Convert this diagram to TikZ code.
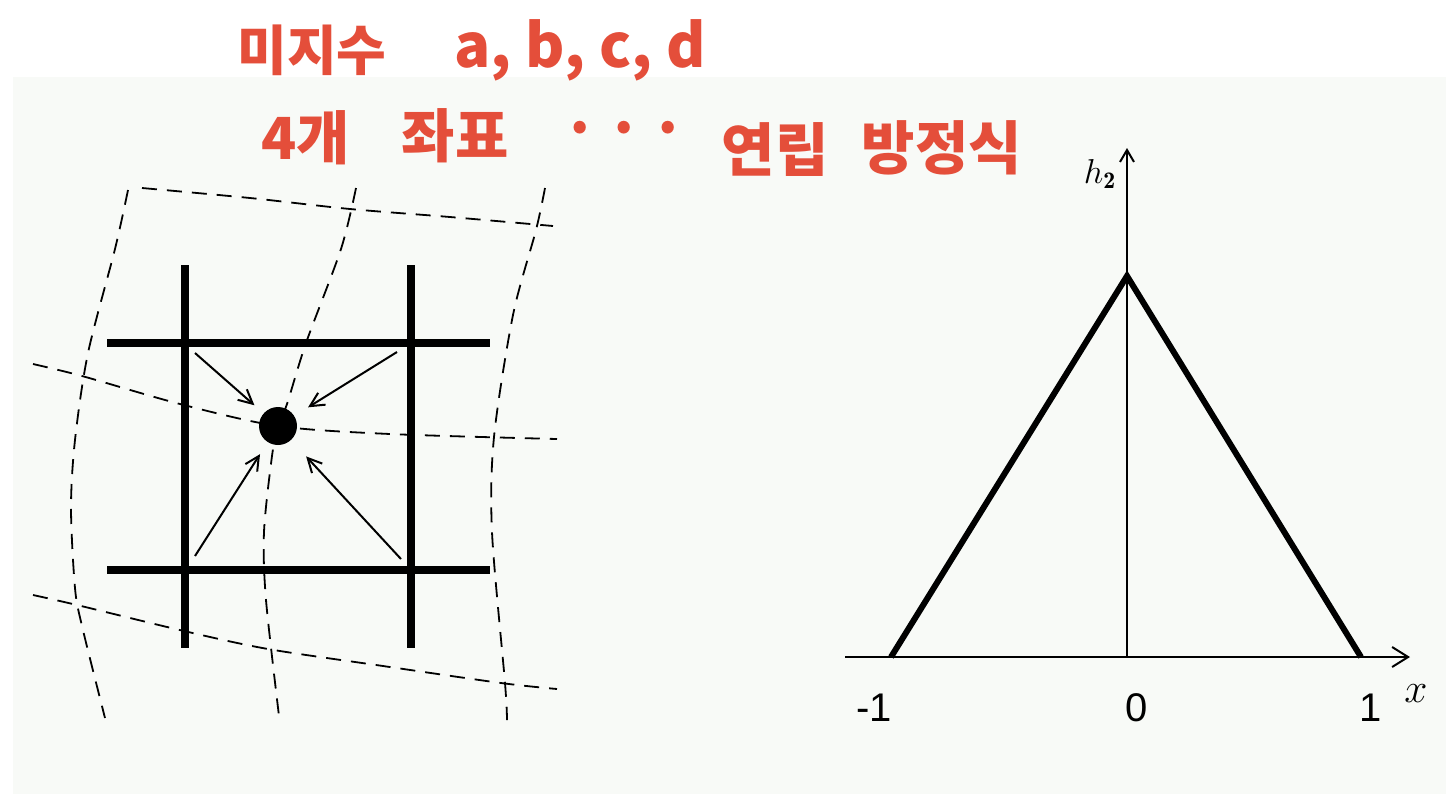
\documentclass[tikz,border=0pt]{standalone}
\usepackage{fontspec}
\usepackage{xcolor}
\usetikzlibrary{arrows.meta,positioning,calc}
\newfontfamily\kofont{Noto Sans CJK KR}
\newfontfamily\axfont{Liberation Sans}
\definecolor{penred}{RGB}{228,78,58}
\definecolor{paper}{RGB}{248,250,247}

\begin{document}
\begin{tikzpicture}[
    x=0.5pt, y=-0.5pt,
    memo/.style={text=penred, font=\kofont\bfseries\fontsize{29}{33}\selectfont, inner sep=0pt},
    gridline/.style={line width=3.6pt},
    warp/.style={dash pattern=on 7.5pt off 5pt, line width=0.9pt},
    pull/.style={-{Straight Barb[length=7pt,width=7pt]}, line width=1pt, shorten >=8pt},
    axis/.style={line width=1pt},
    hat/.style={line width=3pt},
    tick/.style={font=\axfont\fontsize{20}{24}\selectfont, inner sep=0pt}
]
\useasboundingbox (0,0) rectangle (1446,794);
\fill[paper] (13,77) rectangle (1446,794);

% handwritten notes
\node[memo, font=\kofont\bfseries\fontsize{27}{31}\selectfont] (unknowns) at (312,50) {미지수};
\node[memo, font=\kofont\bfseries\fontsize{30}{34}\selectfont] (abcd) at (580,50) {a, b, c, d};
\node[memo] (four) at (306,138) {4개};
\node[memo] (coords) at (455,136) {좌표};
\node[memo] (dots) at (624,135) {·\hspace{0.15em}·\hspace{0.15em}·};
\node[memo] (simul) at (775,150) {연립};
\node[memo] (eqn) at (942,148) {방정식};

% warped grid
\draw[warp] plot[smooth] coordinates {(142,188) (250,198) (350,209) (450,217) (553,226)};
\draw[warp] plot[smooth] coordinates {(33,364) (82,376) (180,404) (278,426) (390,434) (557,439)};
\draw[warp] plot[smooth] coordinates {(33,595) (77,605) (184,631) (268,649) (383,666) (501,683) (557,689)};
\draw[warp] plot[smooth] coordinates {(128,190) (115,249) (88,353) (75,440) (71,508) (75,588) (82,626) (105,718)};
\draw[warp] plot[smooth] coordinates {(356,188) (341,249) (306,343) (287,404) (278,426) (272,456) (264,532) (266,600) (279,716)};
\draw[warp] plot[smooth] coordinates {(545,188) (536,230) (513,315) (494,437) (492,532) (505,683) (507,720)};

% regular grid
\draw[gridline] (185,265) -- (185,648);
\draw[gridline] (411,265) -- (411,648);
\draw[gridline] (107,343) -- (490,343);
\draw[gridline] (107,570) -- (490,570);

% point and its four neighbours
\node[circle, fill, inner sep=0pt, minimum size=19pt] (pt) at (278,426) {};
\coordinate (nw) at (195,353);
\coordinate (ne) at (397,352);
\coordinate (sw) at (195,556);
\coordinate (se) at (401,559);
\draw[pull, shorten >=6pt] (nw) -- (pt);
\draw[pull, shorten >=8pt] (ne) -- (pt);
\draw[pull, shorten >=7pt] (sw) -- (pt);
\draw[pull, shorten >=11pt] (se) -- (pt);

% hat function
\coordinate (xstart) at (845,657);
\coordinate (xend) at (1410,657);
\coordinate (o) at (1127,657);
\coordinate (ytop) at (1127,148);
\coordinate (left) at (891,657);
\coordinate (apex) at (1127,276);
\coordinate (right) at (1361,657);
\draw[axis, -{Straight Barb[length=8pt,width=10pt]}] (xstart) -- (xend);
\draw[axis, -{Straight Barb[length=6pt,width=7pt]}] (o) -- (ytop);
\draw[hat] (left) -- (apex) -- (right);

\node[tick] (m1) at (874,708) {-1};
\node[tick] (zero) at (1137,708) {0};
\node[tick] (p1) at (1371,708) {1};
\node[inner sep=0pt, font=\fontsize{22}{24}\selectfont] (xlab) at (1416,694) {$x$};
\node[inner sep=0pt, font=\fontsize{17}{20}\selectfont] (hlab) at (1100,174) {$h_{\mathbf{2}}$};
\end{tikzpicture}
\end{document}
